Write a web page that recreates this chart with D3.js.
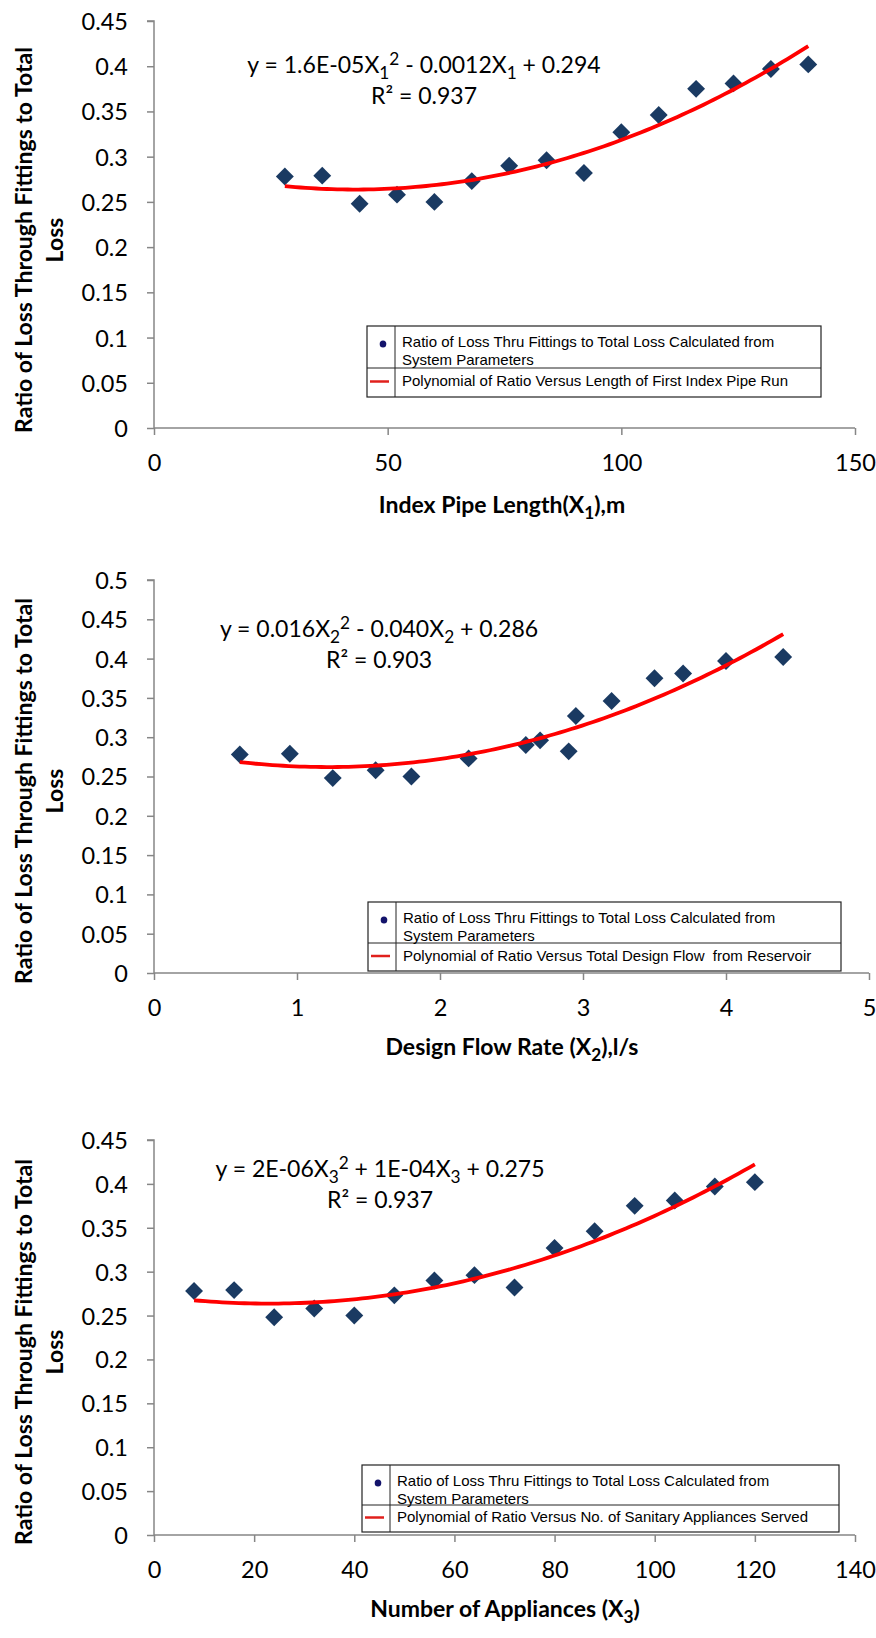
<!doctype html>
<html>
<head>
<meta charset="utf-8">
<script src="https://cdn.jsdelivr.net/npm/d3@7"></script>
<style>
body { margin: 0; background: #fff; }
svg text { font-family: Lato, "Open Sans", sans-serif; fill: #000; }
.tick text { font-size: 23.5px; }
.eq { font-size: 23px; }
.title { font-size: 23px; font-weight: bold; }
.legend text { font-family: "Liberation Sans", Arial, sans-serif; font-size: 15px; white-space: pre; }
</style>
</head>
<body>
<svg id="chart" width="876" height="1638"></svg>
<script>

// ratio of loss through fittings to total loss (same 15 systems in every panel)
var ratio = [0.278, 0.279, 0.248, 0.258, 0.250, 0.273, 0.290, 0.296, 0.282, 0.327, 0.346, 0.375, 0.381, 0.397, 0.402];

// the three explanatory variables
var pipeLength = [28, 36, 44, 52, 60, 68, 76, 84, 92, 100, 108, 116, 124, 132, 140];
var flowRate   = [0.6, 0.95, 1.25, 1.55, 1.8, 2.2, 2.6, 2.7, 2.9, 2.95, 3.2, 3.5, 3.7, 4.0, 4.4];
var appliances = [8, 16, 24, 32, 40, 48, 56, 64, 72, 80, 88, 96, 104, 112, 120];

// tick values
var yTicks45 = [0, 0.05, 0.1, 0.15, 0.2, 0.25, 0.3, 0.35, 0.4, 0.45];
var yTicks50 = [0, 0.05, 0.1, 0.15, 0.2, 0.25, 0.3, 0.35, 0.4, 0.45, 0.5];
var xTicksLength = [0, 50, 100, 150];
var xTicksFlow = [0, 1, 2, 3, 4, 5];
var xTicksAppl = [0, 20, 40, 60, 80, 100, 120, 140];

// texts
var yTitle = ["Ratio of Loss Through Fittings to Total", "Loss"];
var seriesName = ["Ratio of Loss Thru Fittings to Total Loss Calculated from", "System Parameters"];
var trendNames = [
  "Polynomial of Ratio Versus Length of First Index Pipe Run",
  "Polynomial of Ratio Versus Total Design Flow  from Reservoir",
  "Polynomial of Ratio Versus No. of Sanitary Appliances Served"
];
var equations = [
  [["y = 1.6E-05X"], ["1", "sub"], ["2", "sup"], [" - 0.0012X"], ["1", "sub"], [" + 0.294"]],
  [["y = 0.016X"], ["2", "sub"], ["2", "sup"], [" - 0.040X"], ["2", "sub"], [" + 0.286"]],
  [["y = 2E-06X"], ["3", "sub"], ["2", "sup"], [" + 1E-04X"], ["3", "sub"], [" + 0.275"]]
];
var rSquared = ["R\u00b2 = 0.937", "R\u00b2 = 0.903", "R\u00b2 = 0.937"];
var xTitles = [
  [["Index Pipe Length(X"], ["1", "sub"], ["),m"]],
  [["Design Flow Rate (X"], ["2", "sub"], ["),l/s"]],
  [["Number of Appliances (X"], ["3", "sub"], [")"]]
];

var panels = [
  { xs: pipeLength, xMax: 150, xTicks: xTicksLength, yMax: 0.45, yTicks: yTicks45,
    top: 21, bottom: 428, right: 855, eqX: 424, eqY: 73, titleX: 502, titleY: 513, yTitleY: 240,
    legend: { x: 367, y: 326, w: 454, h: 71, split: 42 } },
  { xs: flowRate, xMax: 5, xTicks: xTicksFlow, yMax: 0.5, yTicks: yTicks50,
    top: 580, bottom: 973, right: 869, eqX: 379, eqY: 637, titleX: 512, titleY: 1055, yTitleY: 791,
    legend: { x: 368, y: 902, w: 473, h: 69, split: 41 } },
  { xs: appliances, xMax: 140, xTicks: xTicksAppl, yMax: 0.45, yTicks: yTicks45,
    top: 1140, bottom: 1535, right: 855, eqX: 380, eqY: 1177, titleX: 505, titleY: 1617, yTitleY: 1352,
    legend: { x: 362, y: 1465, w: 477, h: 67, split: 40 } }
];

var left = 154;
var svg = d3.select("#chart");

// least squares fit of y = a + b x + c x^2 (what the spreadsheet trendline does)
function quadFit(xs, ys) {
  var s = [0, 0, 0, 0, 0], t = [0, 0, 0];
  xs.forEach(function(x, i) {
    for (var k = 0; k < 5; k++) s[k] += Math.pow(x, k);
    for (var k = 0; k < 3; k++) t[k] += ys[i] * Math.pow(x, k);
  });
  var m = [[s[0], s[1], s[2], t[0]], [s[1], s[2], s[3], t[1]], [s[2], s[3], s[4], t[2]]];
  for (var i = 0; i < 3; i++) {
    for (var j = i + 1; j < 3; j++) {
      var f = m[j][i] / m[i][i];
      for (var k = i; k < 4; k++) m[j][k] -= f * m[i][k];
    }
  }
  var c = [0, 0, 0];
  for (var i = 2; i >= 0; i--) {
    var v = m[i][3];
    for (var k = i + 1; k < 3; k++) v -= m[i][k] * c[k];
    c[i] = v / m[i][i];
  }
  return function(x) { return c[0] + c[1] * x + c[2] * x * x; };
}

// writes text made of normal / sub / sup pieces
function richText(sel, parts, size) {
  var shift = 0;
  parts.forEach(function(p) {
    var target = p[1] === "sub" ? 0.27 * size : p[1] === "sup" ? -0.36 * size : 0;
    var ts = sel.append("tspan").attr("dy", target - shift).text(p[0]);
    if (p[1]) ts.style("font-size", (size * 0.75) + "px");
    shift = target;
  });
}

panels.forEach(function(p, idx) {
  var x = d3.scaleLinear().domain([0, p.xMax]).range([left, p.right]);
  var y = d3.scaleLinear().domain([0, p.yMax]).range([p.bottom, p.top]);
  var g = svg.append("g");

  // axes
  var yAxis = g.append("g").attr("transform", "translate(" + left + ",0)")
    .call(d3.axisLeft(y).tickValues(p.yTicks).tickFormat(d3.format("")).tickSize(7));
  var xAxis = g.append("g").attr("transform", "translate(0," + p.bottom + ")")
    .call(d3.axisBottom(x).tickValues(p.xTicks).tickFormat(d3.format("")).tickSize(7));
  [yAxis, xAxis].forEach(function(a) {
    a.attr("font-family", null).attr("font-size", null);
    a.selectAll(".domain").attr("stroke", "#868686").attr("stroke-width", 1.5);
    a.selectAll(".tick line").attr("stroke", "#868686").attr("stroke-width", 1.5);
  });
  xAxis.selectAll(".tick text").attr("dy", null).attr("y", 43);
  yAxis.selectAll(".tick text").attr("x", -26).attr("dy", "0.36em");
  // excel style: y domain without outer end tick at bottom, x axis starts at y axis
  yAxis.select(".domain").attr("d", "M-7," + p.top + "H0V" + p.bottom);
  xAxis.select(".domain").attr("d", "M" + left + ",0H" + p.right);

  // trendline
  var fit = quadFit(p.xs, ratio);
  var x0 = d3.min(p.xs), x1 = d3.max(p.xs);
  var pts = d3.range(0, 101).map(function(i) { var v = x0 + (x1 - x0) * i / 100; return [v, fit(v)]; });

  // markers
  g.selectAll(".pt").data(p.xs).enter().append("path")
    .attr("class", "pt")
    .attr("transform", function(d, i) { return "translate(" + x(d) + "," + y(ratio[i]) + ") rotate(45)"; })
    .attr("d", d3.symbol().type(d3.symbolSquare).size(160))
    .attr("fill", "#1a3a62");

  g.append("path").datum(pts)
    .attr("fill", "none").attr("stroke", "#ff0000").attr("stroke-width", 3.8)
    .attr("d", d3.line().x(function(d) { return x(d[0]); }).y(function(d) { return y(d[1]); }));

  // equation
  var eq = g.append("text").attr("class", "eq").attr("text-anchor", "middle")
    .attr("x", p.eqX).attr("y", p.eqY);
  richText(eq, equations[idx], 23);
  g.append("text").attr("class", "eq").attr("text-anchor", "middle")
    .attr("x", p.eqX).attr("y", p.eqY + 31).text(rSquared[idx]);

  // axis titles
  var xt = g.append("text").attr("class", "title").attr("text-anchor", "middle")
    .attr("x", p.titleX).attr("y", p.titleY);
  richText(xt, xTitles[idx], 23);
  yTitle.forEach(function(t, i) {
    g.append("text").attr("class", "title").attr("text-anchor", "middle")
      .attr("transform", "translate(" + (32 + i * 31) + "," + p.yTitleY + ") rotate(-90)")
      .text(t);
  });

  // legend
  var L = p.legend;
  var lg = g.append("g").attr("class", "legend").attr("transform", "translate(" + L.x + "," + L.y + ")");
  lg.append("rect").attr("width", L.w).attr("height", L.h)
    .attr("fill", "#fff").attr("stroke", "#222").attr("stroke-width", 1.2);
  lg.append("line").attr("x1", 28).attr("x2", 28).attr("y1", 0).attr("y2", L.h)
    .attr("stroke", "#222").attr("stroke-width", 1);
  lg.append("line").attr("x1", 0).attr("x2", L.w).attr("y1", L.split).attr("y2", L.split)
    .attr("stroke", "#222").attr("stroke-width", 1);
  lg.append("ellipse").attr("cx", 16).attr("cy", 18).attr("rx", 3.3).attr("ry", 3.6).attr("fill", "#13136b");
  seriesName.forEach(function(t, i) {
    lg.append("text").attr("x", 35).attr("y", 21 + i * 17.6).text(t);
  });
  var mid = L.split + (L.h - L.split) / 2;
  lg.append("line").attr("x1", 3).attr("x2", 22).attr("y1", mid - 1).attr("y2", mid - 1)
    .attr("stroke", "#e0201c").attr("stroke-width", 2.5);
  lg.append("text").attr("x", 35).attr("y", mid + 3.5).text(trendNames[idx]);
});

</script>
</body>
</html>
